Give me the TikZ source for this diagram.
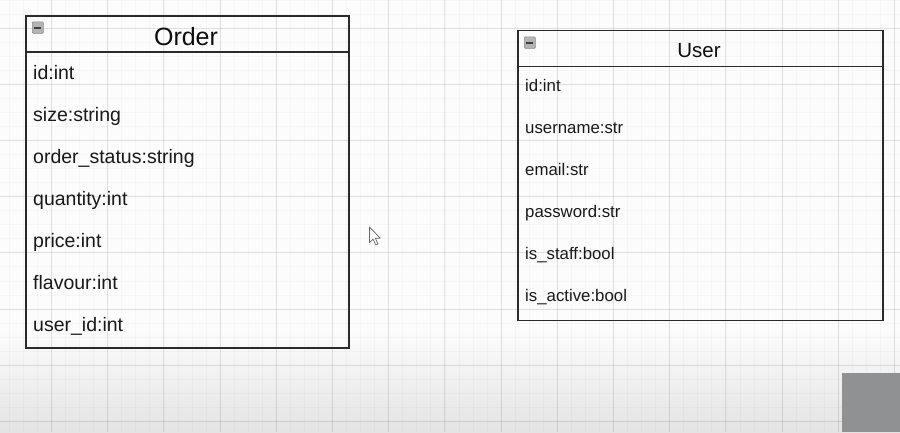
\documentclass[tikz,border=0pt]{standalone}
\usepackage{fontspec}
\setmainfont{Liberation Sans}
\definecolor{bgtop}{HTML}{FCFCFC}
\definecolor{bgbottom}{HTML}{E4E4E4}
\definecolor{boxc}{HTML}{2A2A2A}
\definecolor{iconfill}{HTML}{B4B4B4}
\definecolor{iconline}{HTML}{8A8A8A}
\definecolor{cornergray}{HTML}{8F9193}
\tikzset{
  majorline/.style={black, opacity=0.09, line width=1pt},
  minorline/.style={black, opacity=0.025, line width=0.8pt},
  classbox/.style={draw=boxc, line width=1.7pt, rectangle, inner sep=0pt, anchor=north west},
  sepline/.style={boxc, line width=1.7pt},
  ordertitle/.style={font=\fontsize{25}{28}\selectfont, text=black!95, inner sep=0pt, anchor=base},
  usertitle/.style={font=\fontsize{20.5}{24}\selectfont, text=black!95, inner sep=0pt, anchor=base},
  orderattr/.style={font=\fontsize{19.5}{22}\selectfont, text=black!90, inner sep=0pt, anchor=base west},
  userattr/.style={font=\fontsize{16.8}{20}\selectfont, text=black!90, inner sep=0pt, anchor=base west},
  minusicon/.style={rectangle, rounded corners=1pt, fill=iconfill, draw=iconline, line width=0.7pt, minimum width=11pt, minimum height=11.5pt, inner sep=0pt, anchor=north west},
  minusbar/.style={black!75, line width=1.8pt},
}
\begin{document}
\begin{tikzpicture}[x=1pt,y=-1pt]
\fill[bgtop] (0,0) rectangle (900,330);
\shade[top color=bgtop, bottom color=bgbottom] (0,330) rectangle (900,432);
\useasboundingbox (0,0) rectangle (900,432);
% minor grid
\foreach \i in {0,...,68} {
  \draw[minorline] ({51.5-56.2+\i*14.05},0) -- ++(0,432);
}
\foreach \i in {0,...,36} {
  \draw[minorline] (0,{28-56.2+\i*14.05}) -- ++(900,0);
}
% major grid
\foreach \i in {-1,...,16} {
  \draw[majorline] ({51.5+\i*56.2},0) -- ++(0,432);
}
\foreach \i in {-1,...,8} {
  \draw[majorline] (0,{28+\i*56.2}) -- ++(900,0);
}
% corner gray block
\fill[cornergray] (842,373) rectangle (900,432);

% Order class
\node[classbox, minimum width=323pt, minimum height=332pt] (order) at (25,15) {};
\draw[sepline] ([yshift=-37pt]order.north west) -- ([yshift=-37pt]order.north east);
\node[minusicon] (ordericon) at (32,21.5) {};
\draw[minusbar] ([xshift=3.5pt]ordericon.center) -- ([xshift=-3.5pt]ordericon.center);
\node[ordertitle] (ordername) at (186,45) {Order};
\node[orderattr] (o1) at (33,79) {id:int};
\node[orderattr] (o2) at (33,121) {size:string};
\node[orderattr] (o3) at (33,163) {order\_status:string};
\node[orderattr] (o4) at (33,205) {quantity:int};
\node[orderattr] (o5) at (33,247) {price:int};
\node[orderattr] (o6) at (33,289) {flavour:int};
\node[orderattr] (o7) at (33,331) {user\_id:int};

% User class
\node[classbox, minimum width=365pt, minimum height=290pt] (user) at (517,29.5) {};
\draw[sepline] ([yshift=-37pt]user.north west) -- ([yshift=-37pt]user.north east);
\node[minusicon] (usericon) at (524,36.5) {};
\draw[minusbar] ([xshift=3.5pt]usericon.center) -- ([xshift=-3.5pt]usericon.center);
\node[usertitle] (username) at (699,57) {User};
\node[userattr] (u1) at (525,91) {id:int};
\node[userattr] (u2) at (525,133) {username:str};
\node[userattr] (u3) at (525,175) {email:str};
\node[userattr] (u4) at (525,217) {password:str};
\node[userattr] (u5) at (525,259) {is\_staff:bool};
\node[userattr] (u6) at (525,301) {is\_active:bool};

% mouse cursor
\draw[fill=white, draw=black!60, line width=0.7pt, line join=round]
  (369.5,227) -- (369.5,242.5) -- (373,239) -- (375.8,245) -- (378,244) -- (375.3,238.2) -- (380.3,238.2) -- cycle;
\end{tikzpicture}
\end{document}
